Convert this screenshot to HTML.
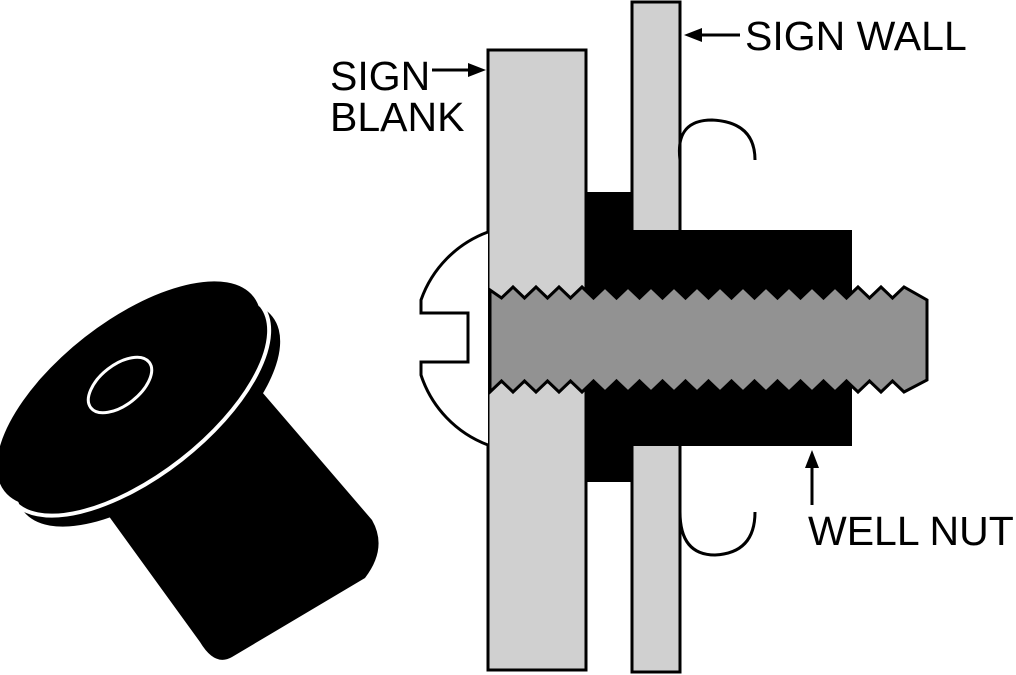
<!DOCTYPE html>
<html><head><style>
html,body{margin:0;padding:0;background:#fff;}
svg{display:block;}
text{font-family:"Liberation Sans",Arial,sans-serif;font-size:41px;fill:#000;}
</style></head><body>
<svg id="s" width="1016" height="675" viewBox="0 0 1016 675" xmlns="http://www.w3.org/2000/svg">
<!-- 3D well nut -->
<g>
  <path d="M108,515 L262,392 L372,520 Q388,548 365,578 L232,657 Q215,667 200,642 Z" fill="#000"/>
  <ellipse cx="148" cy="414" rx="158" ry="72" transform="rotate(-38 148 414)" fill="#000"/>
  <ellipse cx="137" cy="403" rx="158" ry="72" transform="rotate(-38 137 403)" fill="none" stroke="#fff" stroke-width="4"/>
  <ellipse cx="129" cy="394" rx="158" ry="72" transform="rotate(-38 129 394)" fill="#000"/>
  <ellipse cx="120" cy="385" rx="37" ry="20" transform="rotate(-38 120 385)" fill="none" stroke="#fff" stroke-width="3"/>
</g>
<!-- sign blank -->
<rect x="488" y="50" width="98" height="620" fill="#d0d0d0" stroke="#000" stroke-width="3"/>
<!-- sign wall -->
<rect x="632" y="2" width="48" height="670" fill="#d0d0d0" stroke="#000" stroke-width="3"/>
<!-- clips -->
<path d="M680,160 Q675,120 712,120 Q755,122 755,160" fill="none" stroke="#000" stroke-width="3"/>
<path d="M680,512 Q680,555 715,555 Q755,553 755,512" fill="none" stroke="#000" stroke-width="3"/>
<!-- well nut section -->
<rect x="586" y="192" width="46" height="290" fill="#000"/>
<rect x="632" y="230" width="220" height="216" fill="#000"/>
<!-- screw head -->
<path d="M488,232 A112,112 0 0 0 421,300 L421,313 L468,313 L468,362 L421,362 L421,375 A112,112 0 0 0 488,445" fill="#fff" stroke="#000" stroke-width="3"/>
<path id="bolt" fill="#929292" stroke="#000" stroke-width="3"/>
<!-- labels -->
<text x="330" y="90">SIGN</text>
<text x="330" y="131">BLANK</text>
<line x1="432" y1="70" x2="472" y2="70" stroke="#000" stroke-width="3"/>
<polygon points="486,70 468,63 468,77" fill="#000"/>
<text x="745" y="50">SIGN WALL</text>
<line x1="740" y1="35" x2="698" y2="35" stroke="#000" stroke-width="3"/>
<polygon points="684,35 702,28 702,42" fill="#000"/>
<text x="808" y="545">WELL NUT</text>
<line x1="812" y1="505" x2="812" y2="464" stroke="#000" stroke-width="3"/>
<polygon points="812,450 805,468 819,468" fill="#000"/>
</svg>
<script>
(function(){
 var p=[],x0=490,x1=918,pitch=23;
 p.push("M"+x0+",290");
 var x=x0;
 while(x+pitch<=x1){p.push("L"+(x+pitch/2)+",298");x+=pitch;p.push("L"+x+",287");}
 p.push("L"+(x1+9)+",300");p.push("L"+(x1+9)+",380");
 var xx=x;
 p.push("L"+xx+",392");
 while(xx-pitch>=x0){p.push("L"+(xx-pitch/2)+",381");xx-=pitch;p.push("L"+xx+",392");}
 p.push("L"+x0+",388 Z");
 document.getElementById("bolt").setAttribute("d",p.join(" "));
})();
</script>
</body></html>
